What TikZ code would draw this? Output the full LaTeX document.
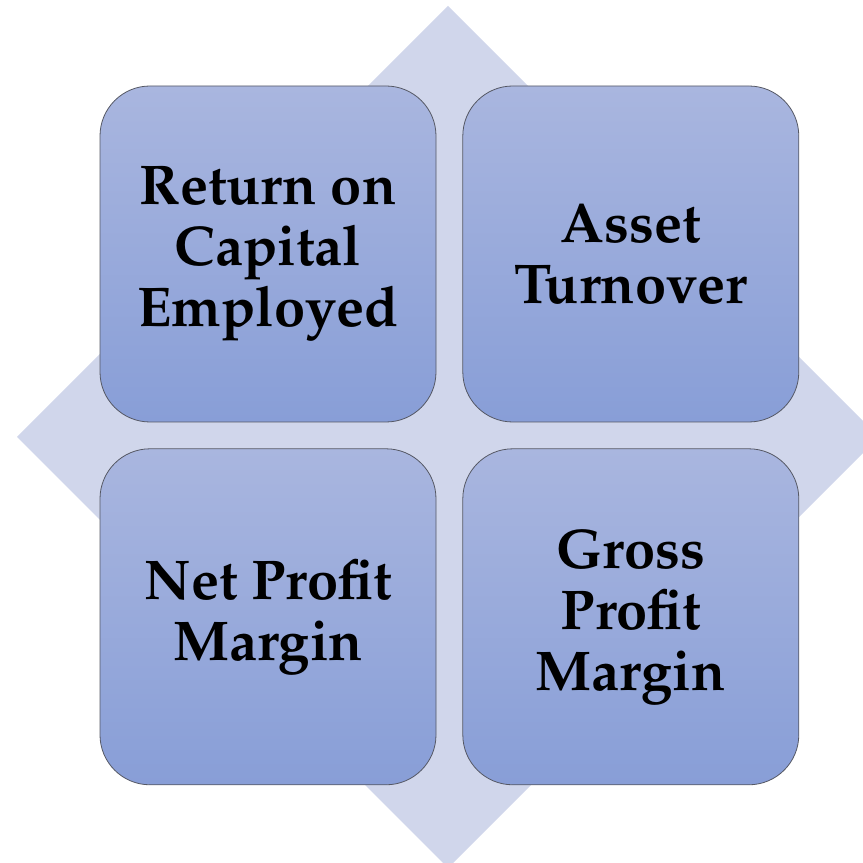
\documentclass[tikz,border=0pt]{standalone}
\usepackage[T1]{fontenc}
\usepackage{mathpazo}
\usetikzlibrary{positioning}
\definecolor{diamondfill}{RGB}{208,214,235}
\definecolor{boxtop}{RGB}{169,182,223}
\definecolor{boxbottom}{RGB}{136,158,215}
\definecolor{boxline}{RGB}{85,88,100}
\begin{document}
\begin{tikzpicture}[
                    x=1pt,y=1pt,
                    node distance=26pt,
                    ratio/.style={rectangle, rounded corners=50pt, draw=boxline, line width=0.8pt,
                        top color=boxtop, bottom color=boxbottom,
                        minimum width=336pt, minimum height=336pt, inner sep=0pt,
                        align=center, font=\fontsize{56}{61}\selectfont\bfseries}
                ]
                \useasboundingbox (0,0) rectangle (863,863);
                % Background
                \fill [diamondfill] (448,857) -- (879,426) -- (448,-5) -- (17,426) -- cycle;

                % Blocks
                \node [ratio] (roce) at (268,609) {Return on\\Capital\\Employed};
                \node [ratio,right=of roce] (turnover) {Asset\\Turnover};
                \node [ratio,below=of roce] (npm) {Net Profit\\Margin};
                \node [ratio,below=of turnover] (gpm) {Gross\\Profit\\Margin};
\end{tikzpicture}
\end{document}
